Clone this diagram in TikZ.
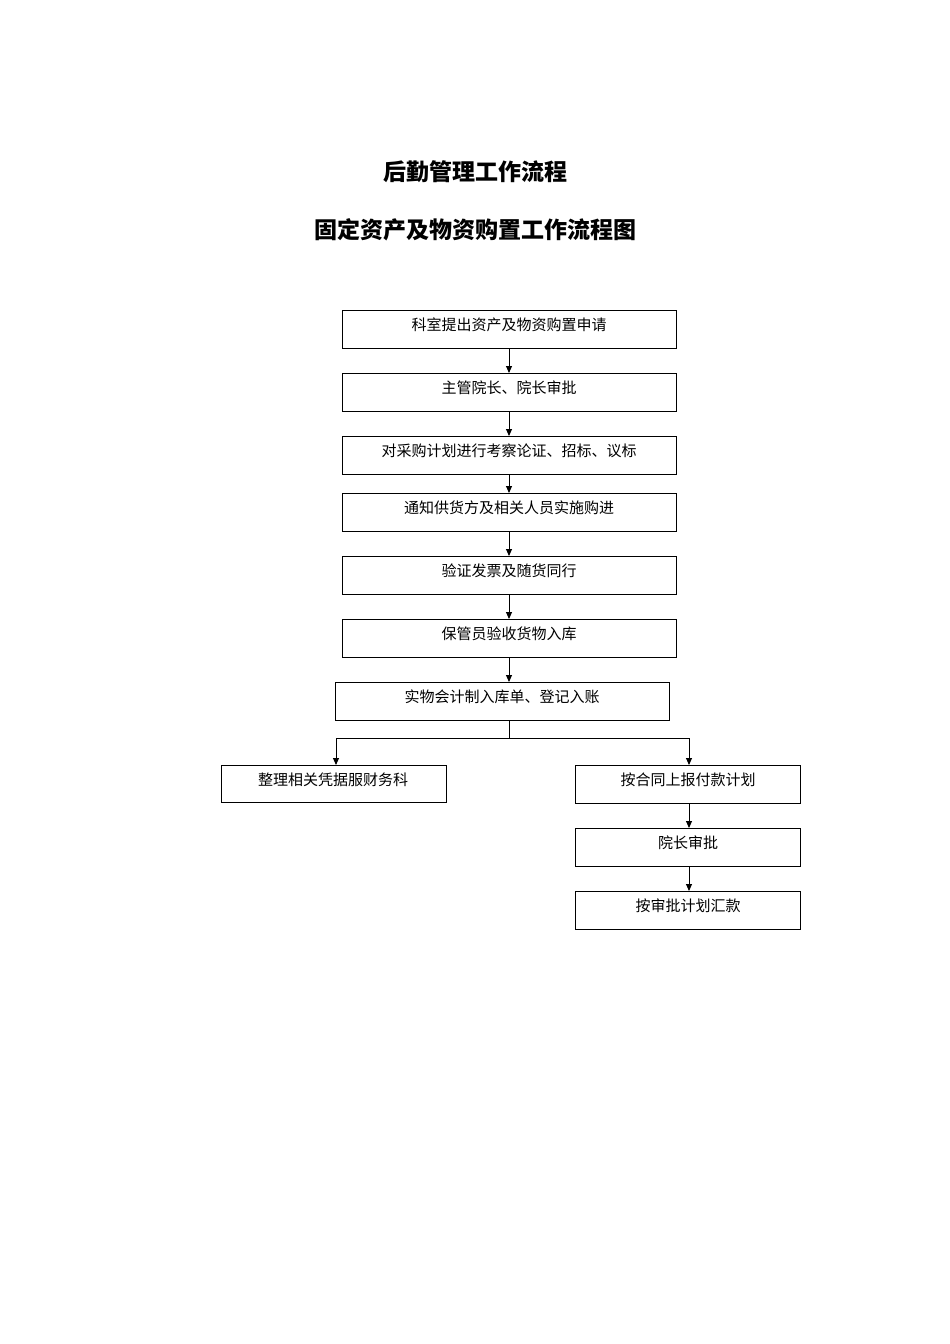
\documentclass[tikz,border=0pt]{standalone}
\usepackage{fontspec}
\setmainfont{Noto Sans CJK SC}
\usetikzlibrary{arrows.meta}
\begin{document}
\begin{tikzpicture}[x=1pt,y=-1pt,
  bx/.style={draw,line width=0.9pt},
  lb/.style={font=\fontsize{15}{15}\selectfont,inner sep=0pt},
  ar/.style={-{Triangle[length=7pt,width=6pt]},line width=0.9pt}]
\useasboundingbox (0,0) rectangle (950,1344);
\node[font=\bfseries\fontsize{23}{23}\selectfont] (t1) at (475,172) {后勤管理工作流程};
\node[font=\bfseries\fontsize{23}{23}\selectfont] (t2) at (475,230) {固定资产及物资购置工作流程图};
\foreach \n/\y/\t in {b1/310/科室提出资产及物资购置申请,b2/373/主管院长、院长审批,b3/436/对采购计划进行考察论证、招标、议标,b4/493/通知供货方及相关人员实施购进,b5/556/验证发票及随货同行,b6/619/保管员验收货物入库}{
  \draw[bx] (342,\y) rectangle (676,\y+38);
  \node[lb] (\n) at (509,\y+15) {\t};
  \coordinate (\n t) at (509,\y); \coordinate (\n b) at (509,\y+38);
}
\draw[bx] (335,682) rectangle (669,720);
\node[lb] (b7) at (502,697) {实物会计制入库单、登记入账};
\coordinate (b7t) at (509,682); \coordinate (b7b) at (509,720);
\draw[bx] (221,765) rectangle (446,802);
\node[lb] (l1) at (333,780) {整理相关凭据服财务科};
\coordinate (l1t) at (336,765);
\foreach \n/\y/\t in {r1/765/按合同上报付款计划,r2/828/院长审批,r3/891/按审批计划汇款}{
  \draw[bx] (575,\y) rectangle (800,\y+38);
  \node[lb] (\n) at (688,\y+15) {\t};
  \coordinate (\n t) at (689,\y); \coordinate (\n b) at (689,\y+38);
}
\draw[ar] (b1b) -- (b2t);
\draw[ar] (b2b) -- (b3t);
\draw[ar] (b3b) -- (b4t);
\draw[ar] (b4b) -- (b5t);
\draw[ar] (b5b) -- (b6t);
\draw[ar] (b6b) -- (b7t);
\coordinate (j) at (509,738);
\draw[line width=0.9pt] (b7b) -- (j);
\draw[ar] (j) -| (l1t);
\draw[ar] (j) -| (r1t);
\draw[ar] (r1b) -- (r2t);
\draw[ar] (r2b) -- (r3t);
\end{tikzpicture}
\end{document}
